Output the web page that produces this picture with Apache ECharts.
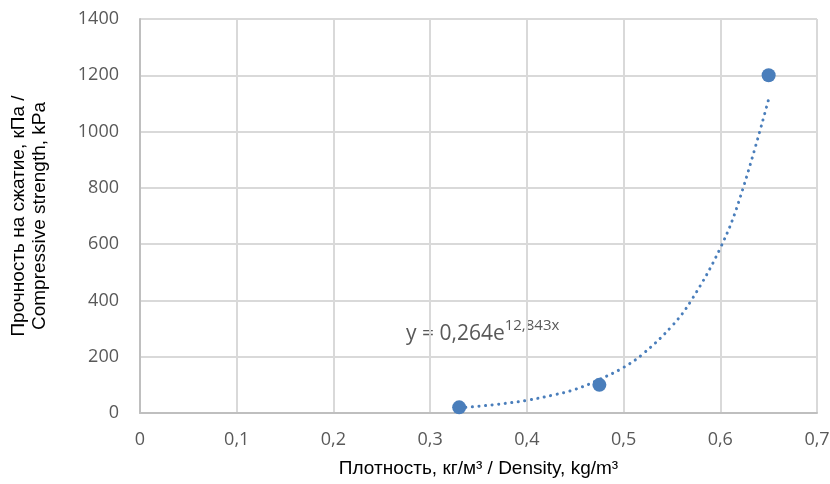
<!DOCTYPE html>
<html><head><meta charset="utf-8">
<script src="https://cdn.jsdelivr.net/npm/echarts@6/dist/echarts.min.js"></script>
<style>html,body{margin:0;padding:0;background:#fff}#c{width:830px;height:484px}</style>
</head><body><div id="c"></div>
<script>
const densityX = [0.33, 0.475, 0.65];
const strengthY = [20, 100, 1200];
const trendX = [0.33, 0.35, 0.37, 0.40, 0.43, 0.45, 0.475, 0.50, 0.52, 0.55, 0.57, 0.60, 0.62, 0.65];
const trendY = [18, 24, 31, 45, 66, 84, 119, 162, 210, 309, 400, 586, 760, 1115];
const xTitle = 'Плотность, кг/м³ / Density, kg/m³';
const yTitle = 'Прочность на сжатие, кПа /\nCompressive strength, kPa';
const eqMain = 'y = 0,264e';
const eqSup = '12,843x';

const chart = echarts.init(document.getElementById('c'), null, {renderer: 'canvas'});
chart.setOption({
  animation: false,
  grid: {left: 140, right: 13, top: 19, bottom: 71, containLabel: false, outerBoundsMode: 'none'},
  xAxis: {
    type: 'value', min: 0, max: 0.7, interval: 0.1,
    axisLine: {show: true, lineStyle: {color: '#bfbfbf', width: 2}},
    axisTick: {show: false},
    splitLine: {show: true, lineStyle: {color: '#d9d9d9', width: 2}},
    axisLabel: {color: '#595959', fontSize: 18, fontFamily: 'Open Sans', margin: 18,
      formatter: v => (Math.round(v * 10) / 10).toString().replace('.', ',')},
    name: xTitle, nameLocation: 'middle', nameGap: 46,
    nameTextStyle: {color: '#000', fontSize: 19, fontFamily: 'Liberation Sans'}
  },
  yAxis: {
    type: 'value', min: 0, max: 1400, interval: 200,
    axisLine: {show: true, lineStyle: {color: '#bfbfbf', width: 2}},
    axisTick: {show: false},
    splitLine: {show: true, lineStyle: {color: '#d9d9d9', width: 2}},
    axisLabel: {color: '#595959', fontSize: 18, fontFamily: 'Open Sans', margin: 21,
      formatter: v => String(v)},
    name: yTitle, nameLocation: 'middle', nameGap: 90, nameRotate: 90,
    nameTextStyle: {color: '#000', fontSize: 19, fontFamily: 'Liberation Sans', lineHeight: 21}
  },
  series: [
    {
      type: 'line', data: trendX.map((x, i) => [x, trendY[i]]), smooth: 0.4,
      showSymbol: false, symbol: 'none', z: 2,
      lineStyle: {color: '#4a7ebb', width: 3, type: [0.1, 6.5], cap: 'round'}
    },
    {
      type: 'scatter', data: densityX.map((x, i) => [x, strengthY[i]]),
      symbol: 'circle', symbolSize: 14, z: 3,
      itemStyle: {color: '#4a7ebb', opacity: 1}
    }
  ],
  graphic: [{
    type: 'text', left: 406, top: 318,
    style: {
      text: '{m|' + eqMain + '}{s|' + eqSup + '}',
      rich: {
        m: {fontSize: 21, fill: '#595959', fontFamily: 'Open Sans', verticalAlign: 'bottom'},
        s: {fontSize: 15, fill: '#595959', fontFamily: 'Open Sans', verticalAlign: 'top', padding: [0, 0, 12, 0]}
      }
    }
  }]
});
</script></body></html>
